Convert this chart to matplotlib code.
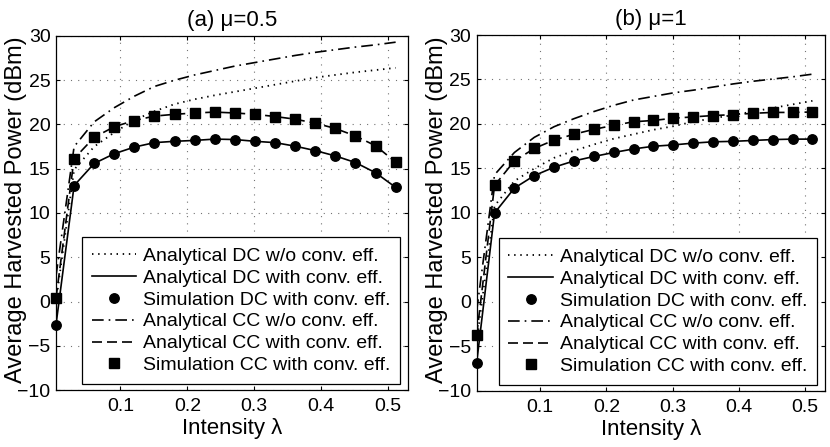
import matplotlib
matplotlib.use('Agg')
import matplotlib.pyplot as plt

plt.rcParams['font.family'] = ['Liberation Sans', 'DejaVu Sans']

# ---------------- data ----------------
lam = [0.004, 0.031, 0.061, 0.091, 0.121, 0.151, 0.181, 0.211, 0.241, 0.271,
       0.301, 0.331, 0.361, 0.391, 0.421, 0.451, 0.481, 0.511]

# (a) mu = 0.5
a_dc_wo = [0.0, 14.9, 17.5, 19.1, 20.5, 21.5, 22.3, 22.85, 23.3, 23.7,
           24.1, 24.5, 24.9, 25.3, 25.6, 25.9, 26.15, 26.4]
a_dc = [-2.6, 13.1, 15.6, 16.7, 17.45, 17.95, 18.1, 18.2, 18.35, 18.3,
        18.1, 17.95, 17.55, 17.05, 16.45, 15.7, 14.55, 12.9]
a_cc_wo = [2.9, 17.5, 20.3, 21.9, 23.2, 24.3, 25.0, 25.6, 26.1, 26.6,
           27.0, 27.4, 27.8, 28.15, 28.45, 28.75, 29.0, 29.3]
a_cc = [0.4, 16.15, 18.55, 19.75, 20.45, 20.95, 21.15, 21.3, 21.4, 21.3,
        21.15, 20.9, 20.6, 20.15, 19.55, 18.7, 17.6, 15.75]

# (b) mu = 1
b_dc_wo = [-4.5, 10.8, 13.6, 15.0, 16.2, 17.0, 17.7, 18.35, 18.85, 19.35,
           19.75, 20.25, 20.65, 21.0, 21.4, 21.8, 22.2, 22.6]
b_dc = [-6.8, 10.0, 12.8, 14.2, 15.15, 15.85, 16.35, 16.8, 17.2, 17.5,
        17.65, 17.85, 18.0, 18.05, 18.15, 18.25, 18.3, 18.3]
b_cc_wo = [-1.0, 14.3, 16.8, 18.5, 19.7, 20.6, 21.4, 22.1, 22.7, 23.1,
           23.5, 23.8, 24.15, 24.5, 24.8, 25.05, 25.3, 25.6]
b_cc = [-3.7, 13.1, 15.85, 17.25, 18.2, 18.85, 19.4, 19.85, 20.25, 20.4,
        20.65, 20.8, 20.95, 21.05, 21.2, 21.3, 21.3, 21.35]

titles = ['(a) μ=0.5', '(b) μ=1']
labels = ['Analytical DC w/o conv. eff.', 'Analytical DC with conv. eff.',
          'Simulation DC with conv. eff.', 'Analytical CC w/o conv. eff.',
          'Analytical CC with conv. eff.', 'Simulation CC with conv. eff.']
xticks = [0.1, 0.2, 0.3, 0.4, 0.5]
yticks = [-10, -5, 0, 5, 10, 15, 20, 25, 30]
xlabel = 'Intensity λ'
ylabel = 'Average Harvested Power (dBm)'

# ---------------- figure ----------------
fig = plt.figure(figsize=(8.3, 4.47), dpi=100)
axA = fig.add_axes([0.0675, 0.1275, 0.4245, 0.792])
axB = fig.add_axes([0.5743, 0.1253, 0.4197, 0.7964])


def draw(ax, dc_wo, dc, cc_wo, cc, title):
    ax.plot(lam, dc_wo, color='k', lw=1.3, linestyle=(0, (0.8, 2.6)), label=labels[0])
    ax.plot(lam, dc, color='k', lw=1.2, linestyle='-', label=labels[1])
    ax.plot(lam, dc, color='k', lw=0, marker='o', ms=6.8, label=labels[2], clip_on=False)
    ax.plot(lam, cc_wo, color='k', lw=1.2, linestyle=(0, (7, 3, 1, 3)), label=labels[3])
    ax.plot(lam, cc, color='k', lw=1.2, linestyle=(0, (6, 3)), label=labels[4])
    ax.plot(lam, cc, color='k', lw=0, marker='s', ms=7, label=labels[5], clip_on=False)

    ax.set_xlim(0.004, 0.53)
    ax.set_ylim(-10, 30)
    ax.set_xticks(xticks)
    ax.set_xticklabels([f'{v:g}' for v in xticks])
    ax.set_yticks(yticks)
    ax.tick_params(direction='in', length=3, width=0.8, top=True, right=True,
                   labelsize=14)
    ax.tick_params(axis='x', pad=6)
    ax.tick_params(axis='y', pad=4)
    ax.grid(True, color='0.45', lw=0.8, linestyle=(0, (1, 5.5)))
    ax.set_axisbelow(True)
    for s in ax.spines.values():
        s.set_linewidth(0.9)
        s.set_color('k')
    ax.set_title(title, fontsize=16, pad=7)
    ax.set_xlabel(xlabel, fontsize=16, labelpad=2)
    ax.set_ylabel(ylabel, fontsize=17)
    ax.yaxis.set_label_coords(-0.083, 0.51)
    leg = ax.legend(loc='lower right', bbox_to_anchor=(0.977, 0.017),
                    borderaxespad=0, fontsize=14, numpoints=1,
                    handlelength=2.3, handletextpad=0.35, labelspacing=0.22,
                    borderpad=0.5, fancybox=False, framealpha=1,
                    edgecolor='k')
    leg.get_frame().set_linewidth(0.9)


draw(axA, a_dc_wo, a_dc, a_cc_wo, a_cc, titles[0])
draw(axB, b_dc_wo, b_dc, b_cc_wo, b_cc, titles[1])

fig.savefig('out.png', dpi=100)
